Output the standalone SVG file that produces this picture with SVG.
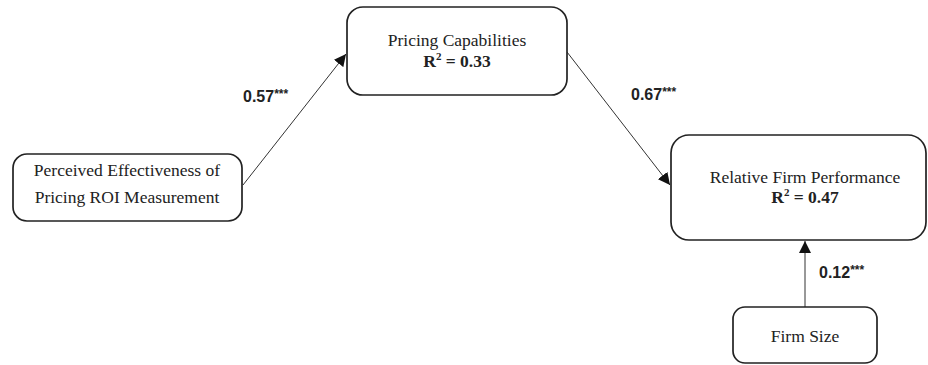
<svg xmlns="http://www.w3.org/2000/svg" width="928" height="365" viewBox="0 0 928 365">
<style>
.box{fill:#fff;stroke:#222;stroke-width:1.7}
.t{font-family:"Liberation Serif","Times New Roman",serif;font-size:17.5px;fill:#222;text-anchor:middle}
.b{font-weight:bold}
.lab{font-family:"Liberation Sans",Arial,sans-serif;font-size:16px;font-weight:bold;fill:#222}
.sup{font-size:12px}
.c{stroke:#333;stroke-width:1;fill:none}
</style>
<defs>
<marker id="ah" viewBox="0 0 10 10" refX="10" refY="5" markerWidth="12" markerHeight="12" markerUnits="userSpaceOnUse" orient="auto">
<path d="M0,0 L10,5 L0,10 z" fill="#111"/>
</marker>
</defs>
<rect width="928" height="365" fill="#fff"/>
<g id="connectors">
<line class="c" x1="243" y1="185" x2="346" y2="54" marker-end="url(#ah)"/>
<line class="c" x1="567" y1="52" x2="670" y2="185" marker-end="url(#ah)"/>
<line class="c" x1="805" y1="307" x2="805" y2="241" marker-end="url(#ah)"/>
<text class="lab" x="243" y="102">0.57<tspan class="sup" dy="-4">***</tspan></text>
<text class="lab" x="631" y="100">0.67<tspan class="sup" dy="-4">***</tspan></text>
<text class="lab" x="819" y="278">0.12<tspan class="sup" dy="-4">***</tspan></text>
</g>
<g id="pricing">
<rect class="box" x="347" y="7" width="220" height="88" rx="16"/>
<text class="t" x="457" y="46">Pricing Capabilities</text>
<text class="t b" x="457" y="67">R<tspan font-size="11" dy="-7">2</tspan><tspan dy="7"> = 0.33</tspan></text>
</g>
<g id="roi">
<rect class="box" x="13" y="154" width="229" height="67" rx="14"/>
<text class="t" x="127" y="176">Perceived Effectiveness of</text>
<text class="t" x="127" y="203">Pricing ROI Measurement</text>
</g>
<g id="performance">
<rect class="box" x="671" y="135" width="255" height="105" rx="18"/>
<text class="t" x="805" y="183">Relative Firm Performance</text>
<text class="t b" x="805" y="203">R<tspan font-size="11" dy="-7">2</tspan><tspan dy="7"> = 0.47</tspan></text>
</g>
<g id="size">
<rect class="box" x="733" y="307" width="144" height="56" rx="12"/>
<text class="t" x="805" y="342">Firm Size</text>
</g>
</svg>
